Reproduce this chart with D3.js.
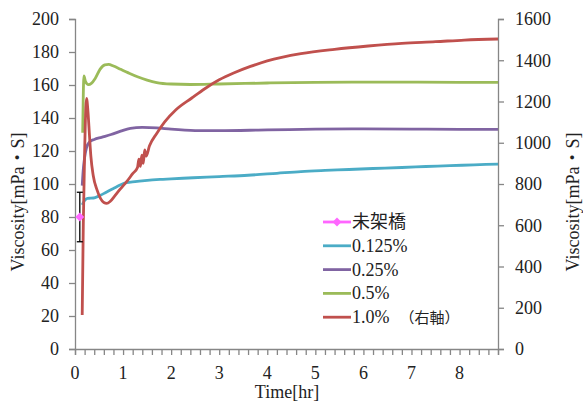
<!DOCTYPE html>
<html>
<head>
<meta charset="utf-8">
<script src="https://cdn.jsdelivr.net/npm/d3@7"></script>
<style>
  body { margin: 0; background: #fff; }
  svg { display: block; }
  svg text { font-family: "Liberation Serif", "Times New Roman", "Noto Sans CJK JP", serif; }
</style>
</head>
<body>
<div id="grafico"></div>
<script>
// series 0.125%
const t0125 = [0.15, 0.2, 0.26, 0.33, 0.42, 0.52, 0.65, 0.8, 0.95, 1.07, 1.25, 1.45, 1.77, 2.0, 2.46, 3.0, 3.6, 4.2, 4.7, 5.2, 5.7, 6.2, 6.8, 7.3, 7.8, 8.3, 8.8];
const v0125 = [87.3, 90, 91.3, 91.4, 91.8, 93, 95, 97.3, 99.5, 100.8, 101.5, 102.1, 102.8, 103.1, 103.8, 104.5, 105.3, 106.5, 107.5, 108.2, 108.8, 109.4, 110, 110.6, 111.1, 111.6, 112.1];

// series 0.25%
const t025 = [0.15, 0.17, 0.2, 0.24, 0.3, 0.4, 0.55, 0.75, 0.95, 1.15, 1.4, 1.7, 2.0, 2.5, 3.0, 4.0, 5.0, 6.0, 7.0, 8.0, 8.8];
const v025 = [99, 108, 116, 122, 125.5, 127, 128.3, 130, 132, 133.7, 134.3, 134, 133.2, 132.4, 132.3, 132.8, 133.2, 133.4, 133.3, 133.1, 133.1];

// series 0.5%
const t05 = [0.16, 0.17, 0.185, 0.22, 0.28, 0.34, 0.42, 0.52, 0.62, 0.7, 0.8, 0.95, 1.1, 1.3, 1.5, 1.7, 2.0, 2.4, 3.0, 4.0, 5.0, 6.0, 7.0, 8.0, 8.8];
const v05 = [131, 150, 165.5, 162, 160.2, 161, 164, 169.5, 172.2, 172.5, 171.5, 169.5, 167.5, 165, 163, 161.5, 160.6, 160.3, 160.6, 161.2, 161.6, 161.8, 161.7, 161.6, 161.6];

// series 1.0% (right axis)
const t10 = [0.15, 0.173, 0.2, 0.225, 0.24, 0.27, 0.3, 0.33, 0.38, 0.46, 0.53, 0.6, 0.66, 0.73, 0.82, 0.94, 1.07, 1.2, 1.3, 1.33, 1.36, 1.39, 1.42, 1.45, 1.48, 1.55, 1.7, 1.87, 2.1, 2.43, 2.7, 3.0, 3.3, 3.65, 4.0, 4.7, 5.4, 6.1, 6.8, 7.5, 8.1, 8.8];
const v10 = [165, 611, 950, 1170, 1215, 1150, 1040, 935, 840, 770, 730, 710, 706, 715, 740, 775, 810, 850, 880, 920, 885, 940, 900, 965, 935, 985, 1045, 1102, 1160, 1217, 1262, 1305, 1338, 1370, 1397, 1432, 1453, 1469, 1482, 1490, 1498, 1503];

// uncrosslinked point with error bar
const tMikakyo = [0.1];
const vMikakyo = [80];
const errMikakyo = [15];

const xTicks = d3.range(0, 44.5).map(i => i * 0.2);
const xLabels = [0, 1, 2, 3, 4, 5, 6, 7, 8];
const yLeftTicks = [0, 20, 40, 60, 80, 100, 120, 140, 160, 180, 200];
const yRightTicks = [0, 200, 400, 600, 800, 1000, 1200, 1400, 1600];

const largura = 583, altura = 402;
const esq = 75, dir = 498, topo = 19, base = 349;
const cinza = "#868686";
const serif = "'Liberation Serif', 'Times New Roman', serif";
const cjk = "'Noto Sans CJK JP', sans-serif";

const svg = d3.select("#grafico").append("svg")
    .attr("width", largura)
    .attr("height", altura);

const x = d3.scaleLinear().domain([0, 8.8]).range([esq, dir]);
const yL = d3.scaleLinear().domain([0, 200]).range([base, topo]);
const yR = d3.scaleLinear().domain([0, 1600]).range([base, topo]);

// eixo x: ticks a cada 0.2, numeros so nos inteiros
const eixoX = svg.append("g")
    .attr("transform", `translate(0,${base})`)
    .call(d3.axisBottom(x).tickValues(xTicks).tickSize(6).tickFormat(""));
eixoX.selectAll("text").remove();
svg.append("g").selectAll("text")
    .data(xLabels)
    .enter()
    .append("text")
    .attr("x", d => x(d))
    .attr("y", 379)
    .attr("text-anchor", "middle")
    .style("font-size", "18px")
    .attr("fill", "#222")
    .text(d => d);

// eixo y esquerdo
const eixoL = svg.append("g")
    .attr("transform", `translate(${esq},0)`)
    .call(d3.axisLeft(yL).tickValues(yLeftTicks).tickSize(6).tickPadding(10).tickFormat(d3.format("d")));

// eixo y direito
const eixoR = svg.append("g")
    .attr("transform", `translate(${dir},0)`)
    .call(d3.axisRight(yR).tickValues(yRightTicks).tickSize(6).tickPadding(11).tickFormat(d3.format("d")));

[eixoX, eixoL, eixoR].forEach(g => {
    g.attr("font-family", null).attr("font-size", null);
    g.select(".domain").attr("stroke", cinza).attr("stroke-width", 1.3);
    g.selectAll(".tick line").attr("stroke", cinza).attr("stroke-width", 1.3);
    g.selectAll(".tick text")
        .attr("fill", "#222")
        .style("font-size", "18px")
        .style("font-family", serif);
});

// titulos dos eixos
svg.append("text")
    .attr("x", 287).attr("y", 398)
    .attr("text-anchor", "middle")
    .style("font-size", "18px")
    .attr("fill", "#222")
    .text("Time[hr]");

svg.append("text")
    .attr("transform", "translate(24,202) rotate(-90)")
    .attr("text-anchor", "middle")
    .style("font-size", "18px")
    .attr("fill", "#222")
    .text("Viscosity[mPa・S]");

svg.append("text")
    .attr("transform", "translate(579,202) rotate(-90)")
    .attr("text-anchor", "middle")
    .style("font-size", "18px")
    .attr("fill", "#222")
    .text("Viscosity[mPa・S]");

// linhas
const series = [
    { nome: "0.125%", t: t0125, v: v0125, cor: "#4BACC6", y: yL },
    { nome: "0.25%", t: t025, v: v025, cor: "#8064A2", y: yL },
    { nome: "0.5%", t: t05, v: v05, cor: "#9BBB59", y: yL },
    { nome: "1.0%", t: t10, v: v10, cor: "#C0504D", y: yR }
];

series.forEach(s => {
    const linha = d3.line()
        .x(d => x(d[0]))
        .y(d => s.y(d[1]))
        .curve(d3.curveMonotoneX);
    svg.append("path")
        .datum(s.t.map((t, i) => [t, s.v[i]]))
        .attr("fill", "none")
        .attr("stroke", s.cor)
        .attr("stroke-width", 2.8)
        .attr("stroke-linejoin", "round")
        .attr("d", linha);
});

// ponto do 未架橋 com barra de erro
const pontos = tMikakyo.map((t, i) => ({ t: t, v: vMikakyo[i], e: errMikakyo[i] }));
const erro = svg.append("g").selectAll("g").data(pontos).enter().append("g");
erro.append("line")
    .attr("x1", d => x(d.t)).attr("x2", d => x(d.t))
    .attr("y1", d => yL(d.v + d.e)).attr("y2", d => yL(d.v - d.e))
    .attr("stroke", "#000").attr("stroke-width", 1.3);
[1, -1].forEach(sinal => {
    erro.append("line")
        .attr("x1", d => x(d.t) - 3).attr("x2", d => x(d.t) + 3)
        .attr("y1", d => yL(d.v + sinal * d.e)).attr("y2", d => yL(d.v + sinal * d.e))
        .attr("stroke", "#000").attr("stroke-width", 1.3);
});
erro.append("path")
    .attr("transform", d => `translate(${x(d.t)},${yL(d.v)})`)
    .attr("d", d3.symbol(d3.symbolDiamond2, 50))
    .attr("fill", "#FF66FF");

// legenda
const legenda = svg.append("g");
const itens = [{ nome: "未架橋", cor: "#FF66FF" }].concat(series);
const linhaLeg = (d, i) => 222 + i * 23.8;
legenda.selectAll("line")
    .data(itens)
    .enter()
    .append("line")
    .attr("x1", 323).attr("x2", 351)
    .attr("y1", linhaLeg).attr("y2", linhaLeg)
    .attr("stroke", d => d.cor)
    .attr("stroke-width", 2.8);
legenda.append("path")
    .attr("transform", `translate(337,${linhaLeg(null, 0)})`)
    .attr("d", d3.symbol(d3.symbolDiamond2, 50))
    .attr("fill", "#FF66FF");
const textos = legenda.selectAll("text")
    .data(itens)
    .enter()
    .append("text")
    .attr("x", 352)
    .attr("y", (d, i) => linhaLeg(d, i) + 6)
    .attr("fill", "#222")
    .style("font-size", "18px")
    .style("font-family", (d, i) => i === 0 ? cjk : serif)
    .text(d => d.nome);
textos.filter((d, i) => i === 4)
    .append("tspan")
    .attr("dx", 10)
    .style("font-size", "15px")
    .style("font-family", cjk)
    .text("（右軸）");
</script>
</body>
</html>
